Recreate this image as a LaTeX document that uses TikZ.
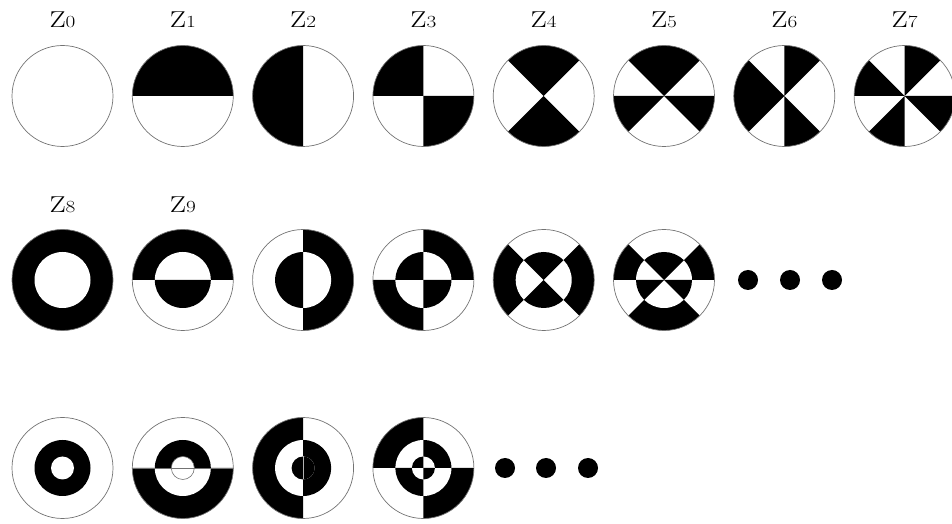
\documentclass[tikz,border=0pt]{standalone}
\begin{document}
\begin{tikzpicture}[x=1pt,y=1pt,
  lbl/.style={anchor=base,inner sep=0pt,xscale=1.25,font=\fontsize{23}{23}\selectfont},
  rim/.style={draw=black!55,line width=0.7pt},
  dotmark/.style={circle,fill=black,inner sep=0pt,minimum size=20pt}]
\useasboundingbox (0,0) rectangle (952,524);
\def\R{50.5pt}\def\Rm{28pt}\def\Ri{11.5pt}
\newcommand\wdg[4]{\fill (#1) -- ++(#3:#2) arc[start angle=#3,end angle=#4,radius=#2] -- cycle;}
\newcommand\dg[1]{{\fontsize{17}{17}\selectfont #1}}
% centres
\foreach \i in {0,...,7}{\coordinate (a\i) at ({62.5+120.3*\i},428);}
\foreach \i in {0,...,5}{\coordinate (b\i) at ({62.5+120.3*\i},244);}
\foreach \i in {0,...,3}{\coordinate (c\i) at ({62.5+120.3*\i},56);}
% labels
\foreach \i in {0,...,7}{\node[lbl] (la\i) at ([yshift=68pt]a\i) {Z\dg{\i}};}
\node[lbl] (lb0) at ([yshift=67pt]b0) {Z\dg{8}};
\node[lbl] (lb1) at ([yshift=67pt]b1) {Z\dg{9}};
% ---- row 1
\wdg{a1}{\R}{0}{180}
\wdg{a2}{\R}{90}{270}
\wdg{a3}{\R}{90}{180}\wdg{a3}{\R}{270}{360}
\wdg{a4}{\R}{45}{135}\wdg{a4}{\R}{225}{315}
\wdg{a5}{\R}{45}{135}\wdg{a5}{\R}{180}{225}\wdg{a5}{\R}{315}{360}
\wdg{a6}{\R}{45}{90}\wdg{a6}{\R}{135}{225}\wdg{a6}{\R}{270}{315}
\wdg{a7}{\R}{45}{90}\wdg{a7}{\R}{135}{180}\wdg{a7}{\R}{225}{270}\wdg{a7}{\R}{315}{360}
% ---- row 2
\fill (b0) circle[radius=\R];
\wdg{b1}{\R}{0}{180}
\wdg{b2}{\R}{-90}{90}
\wdg{b3}{\R}{0}{90}\wdg{b3}{\R}{180}{270}
\wdg{b4}{\R}{-45}{45}\wdg{b4}{\R}{135}{225}
\wdg{b5}{\R}{0}{45}\wdg{b5}{\R}{135}{180}\wdg{b5}{\R}{225}{315}
\foreach \i in {0,...,5}{\fill[white] (b\i) circle[radius=\Rm];}
\wdg{b1}{\Rm}{180}{360}
\wdg{b2}{\Rm}{90}{270}
\wdg{b3}{\Rm}{90}{180}\wdg{b3}{\Rm}{270}{360}
\wdg{b4}{\Rm}{45}{135}\wdg{b4}{\Rm}{225}{315}
\wdg{b5}{\Rm}{45}{135}\wdg{b5}{\Rm}{180}{225}\wdg{b5}{\Rm}{315}{360}
\node[dotmark] (d1) at (748,244) {};
\node[dotmark] (d2) at (790,244) {};
\node[dotmark] (d3) at (832,244) {};
% ---- row 3
\wdg{c1}{\R}{180}{360}
\wdg{c2}{\R}{90}{270}
\wdg{c3}{\R}{90}{180}\wdg{c3}{\R}{270}{360}
\foreach \i in {0,...,3}{\fill[white] (c\i) circle[radius=\Rm];}
\fill (c0) circle[radius=\Rm];
\wdg{c1}{\Rm}{0}{180}
\wdg{c2}{\Rm}{-90}{90}
\wdg{c3}{\Rm}{0}{90}\wdg{c3}{\Rm}{180}{270}
\foreach \i in {0,...,3}{\fill[white] (c\i) circle[radius=\Ri];}
\fill (c2) circle[radius=\Ri];
\wdg{c3}{\Ri}{90}{180}\wdg{c3}{\Ri}{270}{360}
\draw[black!55,line width=0.6pt] ([xshift=-50.5pt]c1) -- ([xshift=50.5pt]c1);
\draw[rim,line width=0.6pt] (c1) circle[radius=\Ri];
\draw[white!70!black,line width=0.4pt] ([yshift=-\Ri]c2) -- ([yshift=\Ri]c2);
\node[dotmark] (e1) at (505,56) {};
\node[dotmark] (e2) at (546,56) {};
\node[dotmark] (e3) at (588,56) {};
% ---- rims
\foreach \i in {0,...,7}{\draw[rim] (a\i) circle[radius=\R];}
\foreach \i in {0,...,5}{\draw[rim] (b\i) circle[radius=\R];}
\foreach \i in {0,...,3}{\draw[rim] (c\i) circle[radius=\R];}
\end{tikzpicture}
\end{document}
